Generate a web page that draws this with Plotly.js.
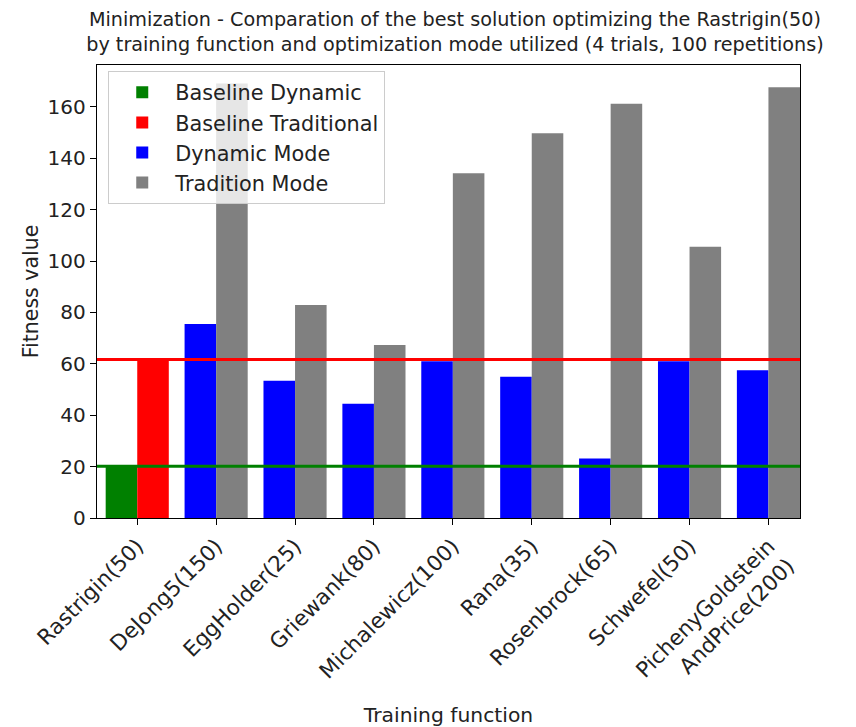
<!DOCTYPE html>
<html>
<head>
<meta charset="utf-8">
<script src="https://cdn.plot.ly/plotly-3.0.1.min.js"></script>
<style>html,body{margin:0;padding:0;background:#fff;}#chart{width:856px;height:727px;}</style>
</head>
<body>
<div id="chart"></div>
<script>
const categories = ['Rastrigin(50)', 'DeJong5(150)', 'EggHolder(25)', 'Griewank(80)', 'Michalewicz(100)', 'Rana(35)', 'Rosenbrock(65)', 'Schwefel(50)', 'PichenyGoldstein<br>AndPrice(200)'];
const baselineDynamic = [20.1];
const baselineTraditional = [61.7];
const dynamicMode = [75.5, 53.4, 44.5, 61.0, 55.0, 23.2, 61.0, 57.5];
const traditionMode = [169.1, 82.9, 67.3, 134.2, 149.7, 161.2, 105.6, 167.6];
const seriesNames = ['Baseline Dynamic', 'Baseline Traditional', 'Dynamic Mode', 'Tradition Mode'];

const FONT = 'DejaVu Sans, sans-serif';
const trainCats = categories.slice(1);

const traces = [
  {type:'bar', name:seriesNames[0], x:[categories[0]], y:baselineDynamic, offset:-0.4, width:0.4,
   marker:{color:'#008000', line:{width:0}}, legendgroup:'a'},
  {type:'bar', name:seriesNames[1], x:[categories[0]], y:baselineTraditional, offset:0, width:0.4,
   marker:{color:'#ff0000', line:{width:0}}, legendgroup:'b'},
  {type:'bar', name:seriesNames[2], x:trainCats, y:dynamicMode, offset:-0.4, width:0.4,
   marker:{color:'#0000ff', line:{width:0}}, legendgroup:'c'},
  {type:'bar', name:seriesNames[3], x:trainCats, y:traditionMode, offset:0, width:0.4,
   marker:{color:'#808080', line:{width:0}}, legendgroup:'d'}
];

const layout = {
  width:856, height:727,
  margin:{l:97, r:56, t:65, b:209},
  paper_bgcolor:'#fff', plot_bgcolor:'#fff',
  font:{family:FONT, color:'#000', size:20},
  barmode:'overlay',
  showlegend:true,
  title:{text:'Minimization - Comparation of the best solution optimizing the Rastrigin(50)<br>by training function and optimization mode utilized (4 trials, 100 repetitions)',
         font:{family:FONT, size:19.2, color:'#222'}, xref:'container', x:0.5315, xanchor:'center',
         yref:'container', y:1 - 26/727, yanchor:'bottom'},
  xaxis:{type:'category', categoryorder:'array', categoryarray:categories,
         range:[-0.51, 8.4], showline:true, mirror:true, linecolor:'#000', linewidth:1.2,
         ticks:'outside', ticklen:6, tickcolor:'#000', tickangle:-45, showgrid:false, zeroline:false,
         tickfont:{family:FONT, size:21.5, color:'#222'},
         title:{text:'Training function', font:{family:FONT, size:20.3, color:'#222'}, standoff:8}},
  yaxis:{range:[0, 176.3], showline:true, mirror:true, linecolor:'#000', linewidth:1.2,
         ticks:'outside', ticklen:6, tickcolor:'#000', dtick:20, tick0:0, showgrid:false, zeroline:false,
         tickfont:{family:FONT, size:20, color:'#222'},
         title:{text:'Fitness value', font:{family:FONT, size:20.5, color:'#222'}, standoff:3}},
  legend:{x:0.016, y:0.986, xanchor:'left', yanchor:'top', bgcolor:'rgba(255,255,255,0.8)',
          bordercolor:'#cccccc', borderwidth:1, font:{family:FONT, size:20.8, color:'#222'},
          tracegroupgap:13, traceorder:'normal', itemwidth:56},
  shapes:[
    {type:'line', xref:'paper', x0:0, x1:1, yref:'y', y0:baselineDynamic[0], y1:baselineDynamic[0],
     line:{color:'#008000', width:3}, layer:'above'},
    {type:'line', xref:'paper', x0:0, x1:1, yref:'y', y0:baselineTraditional[0], y1:baselineTraditional[0],
     line:{color:'#ff0000', width:3}, layer:'above'}
  ]
};

Plotly.newPlot('chart', traces, layout, {displayModeBar:false, staticPlot:true});
</script>
</body>
</html>
